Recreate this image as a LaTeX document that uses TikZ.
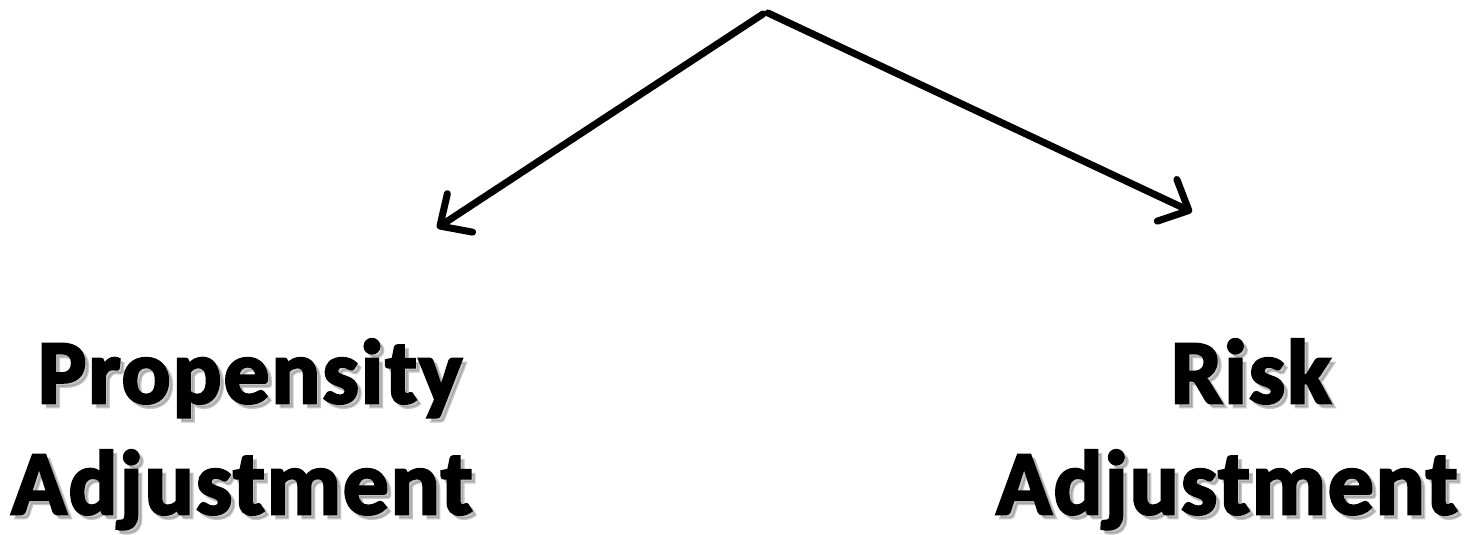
\documentclass[tikz,border=0pt]{standalone}
\usepackage{fontspec}
\setmainfont{Carlito}
\newfontface\bigfont{Carlito Bold}[FakeBold=3,LetterSpace=2.3]
\usetikzlibrary{arrows.meta}
\tikzset{
  conn/.style={line width=7pt, line cap=round, -{Straight Barb[length=24pt,width=46pt,round,line width=7pt]}},
  lbl/.style={font=\fontsize{91}{110}\selectfont\bigfont, anchor=base, inner sep=0pt},
  shadowtxt/.style={lbl, text=black!50, opacity=0.45}
}
\begin{document}
\begin{tikzpicture}[x=1pt,y=1pt]
\useasboundingbox (0,0) rectangle (1472,535);
\coordinate (top1) at (763,521);
\coordinate (top2) at (768,522);
\coordinate (pa) at (437,307);
\coordinate (ra) at (1192,323);
\draw[conn] (top1) -- (pa);
\draw[conn] (top2) -- (ra);
% shadows
\node[shadowtxt] (s1) at (254,128) {Propensity};
\node[shadowtxt] (s2) at (246,17) {Adjustment};
\node[shadowtxt] (s3) at (1255,128) {Risk};
\node[shadowtxt] (s4) at (1231,17) {Adjustment};
% text
\node[lbl] (p1) at (250,132) {Propensity};
\node[lbl] (p2) at (242,21) {Adjustment};
\node[lbl] (r1) at (1251,132) {Risk};
\node[lbl] (r2) at (1227,21) {Adjustment};
\end{tikzpicture}
\end{document}
